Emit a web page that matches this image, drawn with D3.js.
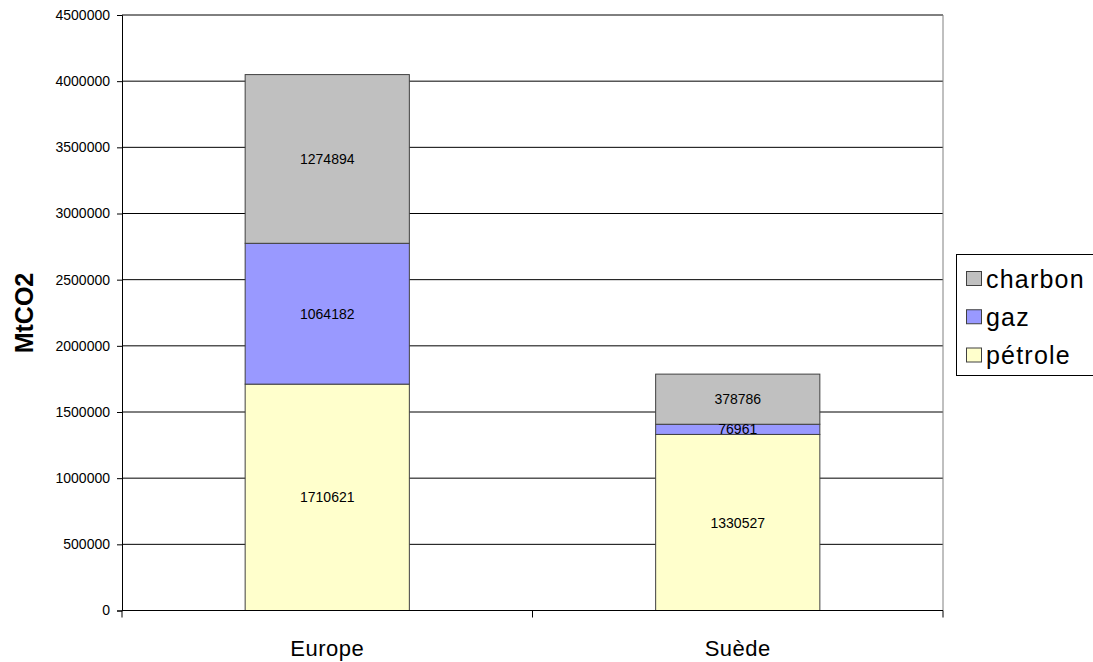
<!DOCTYPE html>
<html>
<head>
<meta charset="utf-8">
<script src="https://cdn.jsdelivr.net/npm/d3@7"></script>
<style>
  html, body { margin: 0; padding: 0; background: #fff; }
  svg { display: block; font-family: "Liberation Sans", Arial, sans-serif; }
</style>
</head>
<body>
<svg id="chart" width="1093" height="662"></svg>
<script>
// Emissions by fuel (MtCO2)
const categories = ["Europe", "Suède"];
const seriesNames = ["pétrole", "gaz", "charbon"];
const petrole = [1710621, 1330527];
const gaz = [1064182, 76961];
const charbon = [1274894, 378786];
const yTicks = [0, 500000, 1000000, 1500000, 2000000, 2500000, 3000000, 3500000, 4000000, 4500000];
const colors = { "pétrole": "#FFFFCC", "gaz": "#9999FF", "charbon": "#C0C0C0" };

const svg = d3.select("#chart");
const plot = { left: 122, top: 15, right: 943, bottom: 610.5 };

const x = d3.scaleBand().domain(categories).range([plot.left, plot.right]).paddingInner(0.6).paddingOuter(0.3);
const y = d3.scaleLinear().domain([0, 4500000]).range([plot.bottom, plot.top]);

// Horizontal gridlines
svg.append("g").selectAll("line").data(yTicks).join("line")
  .attr("x1", plot.left).attr("x2", plot.right)
  .attr("y1", d => y(d)).attr("y2", d => y(d))
  .attr("stroke", "#000").attr("stroke-width", 1);

// Right border of plot area
svg.append("line")
  .attr("x1", plot.right).attr("x2", plot.right)
  .attr("y1", plot.top).attr("y2", plot.bottom)
  .attr("stroke", "#808080").attr("stroke-width", 1);

// Stacked data
const rows = categories.map((c, i) => ({ cat: c, "pétrole": petrole[i], "gaz": gaz[i], "charbon": charbon[i] }));
const stacked = d3.stack().keys(seriesNames)(rows);

const layers = svg.append("g").selectAll("g").data(stacked).join("g")
  .attr("fill", d => colors[d.key]);

layers.selectAll("rect").data(d => d).join("rect")
  .attr("x", d => x(d.data.cat))
  .attr("width", x.bandwidth())
  .attr("y", d => y(d[1]))
  .attr("height", d => y(d[0]) - y(d[1]))
  .attr("stroke", "#404040").attr("stroke-width", 1);

// Value labels
stacked.forEach(layer => {
  svg.append("g").selectAll("text").data(layer).join("text")
    .attr("x", d => x(d.data.cat) + x.bandwidth() / 2)
    .attr("y", d => (y(d[0]) + y(d[1])) / 2)
    .attr("dy", "0.36em")
    .attr("text-anchor", "middle")
    .attr("font-size", 14)
    .attr("fill", "#000")
    .text(d => d[1] - d[0]);
});

// Y axis
const yAxis = d3.axisLeft(y).tickValues(yTicks).tickSize(5).tickPadding(7).tickFormat(d3.format("d"));
const yg = svg.append("g").attr("transform", `translate(${plot.left},0)`).call(yAxis);
yg.select(".domain").attr("stroke", "#000");
yg.selectAll(".tick line").attr("stroke", "#000");
yg.selectAll(".tick text").attr("font-size", 14).attr("fill", "#000")
  .attr("font-family", "Liberation Sans, Arial, sans-serif");

// X axis baseline with category separators
svg.append("line")
  .attr("x1", plot.left).attr("x2", plot.right)
  .attr("y1", plot.bottom).attr("y2", plot.bottom)
  .attr("stroke", "#000");
const step = (plot.right - plot.left) / categories.length;
svg.append("g").selectAll("line").data(d3.range(categories.length + 1)).join("line")
  .attr("x1", d => plot.left + d * step).attr("x2", d => plot.left + d * step)
  .attr("y1", plot.bottom).attr("y2", plot.bottom + 7)
  .attr("stroke", "#000");
svg.append("g").selectAll("text").data(categories).join("text")
  .attr("x", d => x(d) + x.bandwidth() / 2)
  .attr("y", 656)
  .attr("text-anchor", "middle")
  .attr("font-size", 22)
  .attr("letter-spacing", 0.5)
  .attr("fill", "#000")
  .text(d => d);

// Y axis title
svg.append("text")
  .attr("transform", "translate(33,313) rotate(-90)")
  .attr("text-anchor", "middle")
  .attr("font-size", 25)
  .attr("font-weight", "bold")
  .attr("fill", "#000")
  .text("MtCO2");

// Legend
const legendKeys = ["charbon", "gaz", "pétrole"];
const lg = svg.append("g");
lg.append("rect").attr("x", 956.5).attr("y", 254.5).attr("width", 145).attr("height", 121)
  .attr("fill", "#fff").attr("stroke", "#000");
const ly = d3.scalePoint().domain(legendKeys).range([278.5, 355]);
lg.selectAll("rect.sw").data(legendKeys).join("rect").attr("class", "sw")
  .attr("x", 966.5).attr("y", d => ly(d) - 7).attr("width", 15).attr("height", 14)
  .attr("fill", d => colors[d]).attr("stroke", "#404040");
lg.selectAll("text").data(legendKeys).join("text")
  .attr("x", 986).attr("y", d => ly(d)).attr("dy", "0.36em")
  .attr("font-size", 25).attr("letter-spacing", 1.2).attr("fill", "#000")
  .text(d => d);
</script>
</body>
</html>
